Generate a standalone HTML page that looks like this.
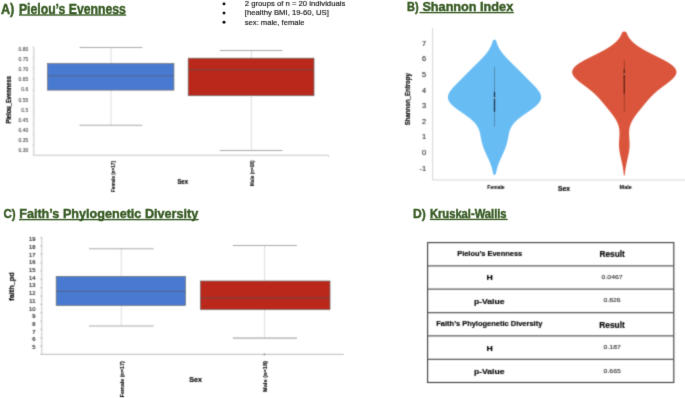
<!DOCTYPE html>
<html><head><meta charset="utf-8"><style>
html,body{margin:0;padding:0;background:#fff;}
body{width:685px;height:398px;overflow:hidden;}
svg{display:block;font-family:"Liberation Sans", sans-serif;}
</style></head><body>
<svg width="685" height="398" viewBox="0 0 685 398">
<defs>
<filter id="bl" x="0" y="0" width="685" height="398" filterUnits="userSpaceOnUse" color-interpolation-filters="sRGB"><feConvolveMatrix order="3" kernelMatrix="1 4 1 4 16 4 1 4 1" divisor="36" edgeMode="duplicate"/></filter>
<filter id="bl2" x="0" y="0" width="685" height="398" filterUnits="userSpaceOnUse" color-interpolation-filters="sRGB"><feConvolveMatrix order="3" kernelMatrix="1 10 1 10 100 10 1 10 1" divisor="144" edgeMode="duplicate"/></filter>
</defs>
<rect width="685" height="398" fill="#fff"/>
<g filter="url(#bl)"><rect width="685" height="398" fill="#fff"/>
<line x1="33.8" y1="47" x2="33.8" y2="155.3" stroke="#c8c8c8" stroke-width="1.1"/>
<line x1="33.8" y1="155.3" x2="328.5" y2="155.3" stroke="#c8c8c8" stroke-width="1.1"/>
<line x1="328.5" y1="155.3" x2="328.5" y2="157" stroke="#c8c8c8" stroke-width="0.9"/>
<text x="0" y="0" transform="translate(28.2 50.800000000000004) scale(1 0.9)" font-size="5.0" text-anchor="end" font-weight="normal" fill="#4a4a4a" stroke="#4a4a4a" stroke-width="0.1">0.80</text>
<text x="0" y="0" transform="translate(28.2 60.96) scale(1 0.9)" font-size="5.0" text-anchor="end" font-weight="normal" fill="#4a4a4a" stroke="#4a4a4a" stroke-width="0.1">0.75</text>
<text x="0" y="0" transform="translate(28.2 71.12) scale(1 0.9)" font-size="5.0" text-anchor="end" font-weight="normal" fill="#4a4a4a" stroke="#4a4a4a" stroke-width="0.1">0.70</text>
<text x="0" y="0" transform="translate(28.2 81.28) scale(1 0.9)" font-size="5.0" text-anchor="end" font-weight="normal" fill="#4a4a4a" stroke="#4a4a4a" stroke-width="0.1">0.65</text>
<text x="0" y="0" transform="translate(28.2 91.44) scale(1 0.9)" font-size="5.0" text-anchor="end" font-weight="normal" fill="#4a4a4a" stroke="#4a4a4a" stroke-width="0.1">0.6</text>
<text x="0" y="0" transform="translate(28.2 101.6) scale(1 0.9)" font-size="5.0" text-anchor="end" font-weight="normal" fill="#4a4a4a" stroke="#4a4a4a" stroke-width="0.1">0.55</text>
<text x="0" y="0" transform="translate(28.2 111.75999999999999) scale(1 0.9)" font-size="5.0" text-anchor="end" font-weight="normal" fill="#4a4a4a" stroke="#4a4a4a" stroke-width="0.1">0.5</text>
<text x="0" y="0" transform="translate(28.2 121.92) scale(1 0.9)" font-size="5.0" text-anchor="end" font-weight="normal" fill="#4a4a4a" stroke="#4a4a4a" stroke-width="0.1">0.45</text>
<text x="0" y="0" transform="translate(28.2 132.08) scale(1 0.9)" font-size="5.0" text-anchor="end" font-weight="normal" fill="#4a4a4a" stroke="#4a4a4a" stroke-width="0.1">0.40</text>
<text x="0" y="0" transform="translate(28.2 142.23999999999998) scale(1 0.9)" font-size="5.0" text-anchor="end" font-weight="normal" fill="#4a4a4a" stroke="#4a4a4a" stroke-width="0.1">0.35</text>
<text x="0" y="0" transform="translate(28.2 152.4) scale(1 0.9)" font-size="5.0" text-anchor="end" font-weight="normal" fill="#4a4a4a" stroke="#4a4a4a" stroke-width="0.1">0.30</text>
<line x1="32.3" y1="155.3" x2="33.8" y2="155.3" stroke="#c8c8c8" stroke-width="0.6"/>
<line x1="32.3" y1="144.5" x2="33.8" y2="144.5" stroke="#c8c8c8" stroke-width="0.6"/>
<line x1="32.3" y1="133.6" x2="33.8" y2="133.6" stroke="#c8c8c8" stroke-width="0.6"/>
<line x1="32.3" y1="122.8" x2="33.8" y2="122.8" stroke="#c8c8c8" stroke-width="0.6"/>
<line x1="32.3" y1="112.0" x2="33.8" y2="112.0" stroke="#c8c8c8" stroke-width="0.6"/>
<line x1="32.3" y1="101.2" x2="33.8" y2="101.2" stroke="#c8c8c8" stroke-width="0.6"/>
<line x1="32.3" y1="90.3" x2="33.8" y2="90.3" stroke="#c8c8c8" stroke-width="0.6"/>
<line x1="32.3" y1="79.5" x2="33.8" y2="79.5" stroke="#c8c8c8" stroke-width="0.6"/>
<line x1="32.3" y1="68.7" x2="33.8" y2="68.7" stroke="#c8c8c8" stroke-width="0.6"/>
<line x1="32.3" y1="57.8" x2="33.8" y2="57.8" stroke="#c8c8c8" stroke-width="0.6"/>
<line x1="32.3" y1="47.0" x2="33.8" y2="47.0" stroke="#c8c8c8" stroke-width="0.6"/>
<line x1="111" y1="47.5" x2="111" y2="125.2" stroke="#b3b3b3" stroke-width="0.7" stroke-dasharray="1 0.6"/>
<line x1="79.6" y1="47.5" x2="142.3" y2="47.5" stroke="#a9a9a9" stroke-width="1.1"/>
<line x1="79.6" y1="125.2" x2="142.3" y2="125.2" stroke="#a9a9a9" stroke-width="1.1"/>
<rect x="47.6" y="63.6" width="126.30" height="26.50" fill="#497AD2" stroke="#6b6b6b" stroke-width="0.7"/>
<line x1="47.6" y1="75.75" x2="173.9" y2="75.75" stroke="#555" stroke-opacity="0.55" stroke-width="1.1"/>
<line x1="251.4" y1="50.5" x2="251.4" y2="150.5" stroke="#b3b3b3" stroke-width="0.7" stroke-dasharray="1 0.6"/>
<line x1="219.8" y1="50.5" x2="282.4" y2="50.5" stroke="#a9a9a9" stroke-width="1.1"/>
<line x1="219.8" y1="150.5" x2="282.4" y2="150.5" stroke="#a9a9a9" stroke-width="1.1"/>
<rect x="188.2" y="58.2" width="125.80" height="37.50" fill="#BA281C" stroke="#6b6b6b" stroke-width="0.7"/>
<line x1="188.2" y1="69.65" x2="314" y2="69.65" stroke="#555" stroke-opacity="0.55" stroke-width="1.1"/>
<text x="10.6" y="123.6" font-size="6.4" text-anchor="start" font-weight="bold" fill="#000" textLength="47.5" lengthAdjust="spacingAndGlyphs" transform="rotate(-90 10.6 123.6)" stroke="#000" stroke-width="0.18">Pielou_Evenness</text>
<text x="114.6" y="192" font-size="5.0" text-anchor="start" font-weight="bold" fill="#000" textLength="31" lengthAdjust="spacingAndGlyphs" transform="rotate(-90 114.6 192)" stroke="#000" stroke-width="0.08">Female (n=17)</text>
<text x="253.8" y="186" font-size="5.0" text-anchor="start" font-weight="bold" fill="#000" textLength="25.5" lengthAdjust="spacingAndGlyphs" transform="rotate(-90 253.8 186)" stroke="#000" stroke-width="0.08">Male (n=18)</text>
<text x="177.4" y="184.2" font-size="7.2" text-anchor="start" font-weight="bold" fill="#000" textLength="10.6" lengthAdjust="spacingAndGlyphs" stroke="#000" stroke-width="0.18">Sex</text>
<line x1="432.6" y1="27.8" x2="432.6" y2="180" stroke="#d0d0d0" stroke-width="0.9"/>
<line x1="432.6" y1="180" x2="685" y2="180" stroke="#d0d0d0" stroke-width="0.9"/>
<text x="426.0" y="170.6" font-size="7.4" text-anchor="end" font-weight="normal" fill="#222" stroke="#222" stroke-width="0.1">-1</text>
<text x="426.0" y="155.0" font-size="7.4" text-anchor="end" font-weight="normal" fill="#222" stroke="#222" stroke-width="0.1">0</text>
<text x="426.0" y="139.4" font-size="7.4" text-anchor="end" font-weight="normal" fill="#222" stroke="#222" stroke-width="0.1">1</text>
<text x="426.0" y="123.80000000000001" font-size="7.4" text-anchor="end" font-weight="normal" fill="#222" stroke="#222" stroke-width="0.1">2</text>
<text x="426.0" y="108.20000000000002" font-size="7.4" text-anchor="end" font-weight="normal" fill="#222" stroke="#222" stroke-width="0.1">3</text>
<text x="426.0" y="92.60000000000001" font-size="7.4" text-anchor="end" font-weight="normal" fill="#222" stroke="#222" stroke-width="0.1">4</text>
<text x="426.0" y="77.00000000000001" font-size="7.4" text-anchor="end" font-weight="normal" fill="#222" stroke="#222" stroke-width="0.1">5</text>
<text x="426.0" y="61.40000000000002" font-size="7.4" text-anchor="end" font-weight="normal" fill="#222" stroke="#222" stroke-width="0.1">6</text>
<text x="426.0" y="45.80000000000001" font-size="7.4" text-anchor="end" font-weight="normal" fill="#222" stroke="#222" stroke-width="0.1">7</text>
<path d="M492.70,41.20 A1.80,1.44 0 0 1 496.30,41.20 L496.44,41.70 L496.59,42.20 L496.75,42.70 L496.92,43.20 L497.09,43.70 L497.28,44.20 L497.48,44.70 L497.69,45.20 L497.90,45.70 L498.13,46.20 L498.37,46.70 L498.62,47.20 L498.89,47.70 L499.16,48.20 L499.44,48.70 L499.74,49.20 L500.05,49.70 L500.37,50.20 L500.70,50.70 L501.04,51.20 L501.39,51.70 L501.75,52.20 L502.13,52.70 L502.51,53.20 L502.91,53.70 L503.31,54.20 L503.73,54.70 L504.15,55.20 L504.58,55.70 L505.02,56.20 L505.47,56.70 L505.93,57.20 L506.40,57.70 L506.87,58.20 L507.34,58.70 L507.83,59.20 L508.31,59.70 L508.81,60.20 L509.30,60.70 L509.80,61.20 L510.31,61.70 L510.81,62.20 L511.32,62.70 L511.83,63.20 L512.34,63.70 L512.85,64.20 L513.36,64.70 L513.88,65.20 L514.39,65.70 L514.90,66.20 L515.41,66.70 L515.91,67.20 L516.42,67.70 L516.93,68.20 L517.43,68.70 L517.93,69.20 L518.43,69.70 L518.93,70.20 L519.43,70.70 L519.92,71.20 L520.42,71.70 L520.91,72.20 L521.40,72.70 L521.89,73.20 L522.38,73.70 L522.87,74.20 L523.37,74.70 L523.86,75.20 L524.35,75.70 L524.84,76.20 L525.33,76.70 L525.82,77.20 L526.32,77.70 L526.81,78.20 L527.31,78.70 L527.80,79.20 L528.30,79.70 L528.80,80.20 L529.30,80.70 L529.80,81.20 L530.30,81.70 L530.81,82.20 L531.31,82.70 L531.80,83.20 L532.30,83.70 L532.80,84.20 L533.29,84.70 L533.77,85.20 L534.26,85.70 L534.73,86.20 L535.20,86.70 L535.66,87.20 L536.11,87.70 L536.55,88.20 L536.98,88.70 L537.39,89.20 L537.79,89.70 L538.18,90.20 L538.54,90.70 L538.89,91.20 L539.21,91.70 L539.52,92.20 L539.80,92.70 L540.05,93.20 L540.28,93.70 L540.49,94.20 L540.66,94.70 L540.81,95.20 L540.92,95.70 L541.00,96.20 L541.05,96.70 L541.07,97.20 L541.06,97.70 L541.01,98.20 L540.92,98.70 L540.80,99.20 L540.65,99.70 L540.46,100.20 L540.23,100.70 L539.97,101.20 L539.68,101.70 L539.35,102.20 L538.99,102.70 L538.60,103.20 L538.18,103.70 L537.73,104.20 L537.24,104.70 L536.73,105.20 L536.19,105.70 L535.63,106.20 L535.05,106.70 L534.44,107.20 L533.81,107.70 L533.16,108.20 L532.50,108.70 L531.82,109.20 L531.13,109.70 L530.43,110.20 L529.72,110.70 L529.00,111.20 L528.28,111.70 L527.55,112.20 L526.83,112.70 L526.10,113.20 L525.37,113.70 L524.65,114.20 L523.94,114.70 L523.23,115.20 L522.54,115.70 L521.85,116.20 L521.17,116.70 L520.51,117.20 L519.86,117.70 L519.23,118.20 L518.62,118.70 L518.02,119.20 L517.44,119.70 L516.88,120.20 L516.34,120.70 L515.82,121.20 L515.32,121.70 L514.84,122.20 L514.38,122.70 L513.95,123.20 L513.53,123.70 L513.13,124.20 L512.76,124.70 L512.41,125.20 L512.07,125.70 L511.76,126.20 L511.46,126.70 L511.19,127.20 L510.93,127.70 L510.68,128.20 L510.46,128.70 L510.25,129.20 L510.05,129.70 L509.87,130.20 L509.70,130.70 L509.54,131.20 L509.39,131.70 L509.25,132.20 L509.12,132.70 L509.00,133.20 L508.89,133.70 L508.78,134.20 L508.67,134.70 L508.57,135.20 L508.48,135.70 L508.38,136.20 L508.29,136.70 L508.20,137.20 L508.11,137.70 L508.01,138.20 L507.92,138.70 L507.82,139.20 L507.73,139.70 L507.62,140.20 L507.52,140.70 L507.41,141.20 L507.29,141.70 L507.17,142.20 L507.05,142.70 L506.92,143.20 L506.78,143.70 L506.64,144.20 L506.49,144.70 L506.34,145.20 L506.18,145.70 L506.01,146.20 L505.84,146.70 L505.67,147.20 L505.48,147.70 L505.30,148.20 L505.10,148.70 L504.90,149.20 L504.70,149.70 L504.50,150.20 L504.28,150.70 L504.07,151.20 L503.85,151.70 L503.63,152.20 L503.41,152.70 L503.18,153.20 L502.96,153.70 L502.73,154.20 L502.50,154.70 L502.27,155.20 L502.04,155.70 L501.81,156.20 L501.58,156.70 L501.35,157.20 L501.12,157.70 L500.89,158.20 L500.67,158.70 L500.45,159.20 L500.23,159.70 L500.01,160.20 L499.80,160.70 L499.59,161.20 L499.38,161.70 L499.18,162.20 L498.98,162.70 L498.79,163.20 L498.60,163.70 L498.42,164.20 L498.24,164.70 L498.06,165.20 L497.89,165.70 L497.72,166.20 L497.57,166.70 L497.41,167.20 L497.26,167.70 L497.12,168.20 L496.98,168.70 L496.84,169.20 L496.71,169.70 L496.59,170.20 L496.47,170.70 L496.36,171.20 L496.25,171.70 L496.14,172.20 L496.04,172.70 L495.95,173.20 L495.86,173.70 L495.77,174.20 L494.70,174.70 L494.30,174.70 L493.23,174.20 L493.14,173.70 L493.05,173.20 L492.96,172.70 L492.86,172.20 L492.75,171.70 L492.64,171.20 L492.53,170.70 L492.41,170.20 L492.29,169.70 L492.16,169.20 L492.02,168.70 L491.88,168.20 L491.74,167.70 L491.59,167.20 L491.43,166.70 L491.28,166.20 L491.11,165.70 L490.94,165.20 L490.76,164.70 L490.58,164.20 L490.40,163.70 L490.21,163.20 L490.02,162.70 L489.82,162.20 L489.62,161.70 L489.41,161.20 L489.20,160.70 L488.99,160.20 L488.77,159.70 L488.55,159.20 L488.33,158.70 L488.11,158.20 L487.88,157.70 L487.65,157.20 L487.42,156.70 L487.19,156.20 L486.96,155.70 L486.73,155.20 L486.50,154.70 L486.27,154.20 L486.04,153.70 L485.82,153.20 L485.59,152.70 L485.37,152.20 L485.15,151.70 L484.93,151.20 L484.72,150.70 L484.50,150.20 L484.30,149.70 L484.10,149.20 L483.90,148.70 L483.70,148.20 L483.52,147.70 L483.33,147.20 L483.16,146.70 L482.99,146.20 L482.82,145.70 L482.66,145.20 L482.51,144.70 L482.36,144.20 L482.22,143.70 L482.08,143.20 L481.95,142.70 L481.83,142.20 L481.71,141.70 L481.59,141.20 L481.48,140.70 L481.38,140.20 L481.27,139.70 L481.18,139.20 L481.08,138.70 L480.99,138.20 L480.89,137.70 L480.80,137.20 L480.71,136.70 L480.62,136.20 L480.52,135.70 L480.43,135.20 L480.33,134.70 L480.22,134.20 L480.11,133.70 L480.00,133.20 L479.88,132.70 L479.75,132.20 L479.61,131.70 L479.46,131.20 L479.30,130.70 L479.13,130.20 L478.95,129.70 L478.75,129.20 L478.54,128.70 L478.32,128.20 L478.07,127.70 L477.81,127.20 L477.54,126.70 L477.24,126.20 L476.93,125.70 L476.59,125.20 L476.24,124.70 L475.87,124.20 L475.47,123.70 L475.05,123.20 L474.62,122.70 L474.16,122.20 L473.68,121.70 L473.18,121.20 L472.66,120.70 L472.12,120.20 L471.56,119.70 L470.98,119.20 L470.38,118.70 L469.77,118.20 L469.14,117.70 L468.49,117.20 L467.83,116.70 L467.15,116.20 L466.46,115.70 L465.77,115.20 L465.06,114.70 L464.35,114.20 L463.63,113.70 L462.90,113.20 L462.17,112.70 L461.45,112.20 L460.72,111.70 L460.00,111.20 L459.28,110.70 L458.57,110.20 L457.87,109.70 L457.18,109.20 L456.50,108.70 L455.84,108.20 L455.19,107.70 L454.56,107.20 L453.95,106.70 L453.37,106.20 L452.81,105.70 L452.27,105.20 L451.76,104.70 L451.27,104.20 L450.82,103.70 L450.40,103.20 L450.01,102.70 L449.65,102.20 L449.32,101.70 L449.03,101.20 L448.77,100.70 L448.54,100.20 L448.35,99.70 L448.20,99.20 L448.08,98.70 L447.99,98.20 L447.94,97.70 L447.93,97.20 L447.95,96.70 L448.00,96.20 L448.08,95.70 L448.19,95.20 L448.34,94.70 L448.51,94.20 L448.72,93.70 L448.95,93.20 L449.20,92.70 L449.48,92.20 L449.79,91.70 L450.11,91.20 L450.46,90.70 L450.82,90.20 L451.21,89.70 L451.61,89.20 L452.02,88.70 L452.45,88.20 L452.89,87.70 L453.34,87.20 L453.80,86.70 L454.27,86.20 L454.74,85.70 L455.23,85.20 L455.71,84.70 L456.20,84.20 L456.70,83.70 L457.20,83.20 L457.69,82.70 L458.19,82.20 L458.70,81.70 L459.20,81.20 L459.70,80.70 L460.20,80.20 L460.70,79.70 L461.20,79.20 L461.69,78.70 L462.19,78.20 L462.68,77.70 L463.18,77.20 L463.67,76.70 L464.16,76.20 L464.65,75.70 L465.14,75.20 L465.63,74.70 L466.13,74.20 L466.62,73.70 L467.11,73.20 L467.60,72.70 L468.09,72.20 L468.58,71.70 L469.08,71.20 L469.57,70.70 L470.07,70.20 L470.57,69.70 L471.07,69.20 L471.57,68.70 L472.07,68.20 L472.58,67.70 L473.09,67.20 L473.59,66.70 L474.10,66.20 L474.61,65.70 L475.12,65.20 L475.64,64.70 L476.15,64.20 L476.66,63.70 L477.17,63.20 L477.68,62.70 L478.19,62.20 L478.69,61.70 L479.20,61.20 L479.70,60.70 L480.19,60.20 L480.69,59.70 L481.17,59.20 L481.66,58.70 L482.13,58.20 L482.60,57.70 L483.07,57.20 L483.53,56.70 L483.98,56.20 L484.42,55.70 L484.85,55.20 L485.27,54.70 L485.69,54.20 L486.09,53.70 L486.49,53.20 L486.87,52.70 L487.25,52.20 L487.61,51.70 L487.96,51.20 L488.30,50.70 L488.63,50.20 L488.95,49.70 L489.26,49.20 L489.56,48.70 L489.84,48.20 L490.11,47.70 L490.38,47.20 L490.63,46.70 L490.87,46.20 L491.10,45.70 L491.31,45.20 L491.52,44.70 L491.72,44.20 L491.91,43.70 L492.08,43.20 L492.25,42.70 L492.41,42.20 L492.56,41.70 L492.70,41.20 Z" fill="#68BCF4"/>
<path d="M621.77,33.60 A2.53,2.02 0 0 1 626.83,33.60 L627.04,34.10 L627.26,34.60 L627.50,35.10 L627.76,35.60 L628.03,36.10 L628.32,36.60 L628.62,37.10 L628.94,37.60 L629.29,38.10 L629.65,38.60 L630.03,39.10 L630.43,39.60 L630.86,40.10 L631.30,40.60 L631.77,41.10 L632.26,41.60 L632.78,42.10 L633.31,42.60 L633.87,43.10 L634.46,43.60 L635.07,44.10 L635.70,44.60 L636.36,45.10 L637.04,45.60 L637.75,46.10 L638.48,46.60 L639.23,47.10 L640.01,47.60 L640.81,48.10 L641.63,48.60 L642.47,49.10 L643.34,49.60 L644.22,50.10 L645.12,50.60 L646.04,51.10 L646.98,51.60 L647.93,52.10 L648.89,52.60 L649.87,53.10 L650.86,53.60 L651.85,54.10 L652.86,54.60 L653.87,55.10 L654.88,55.60 L655.89,56.10 L656.90,56.60 L657.91,57.10 L658.92,57.60 L659.91,58.10 L660.90,58.60 L661.87,59.10 L662.83,59.60 L663.78,60.10 L664.70,60.60 L665.60,61.10 L666.48,61.60 L667.34,62.10 L668.16,62.60 L668.96,63.10 L669.72,63.60 L670.45,64.10 L671.15,64.60 L671.80,65.10 L672.42,65.60 L673.00,66.10 L673.53,66.60 L674.03,67.10 L674.47,67.60 L674.88,68.10 L675.23,68.60 L675.54,69.10 L675.81,69.60 L676.02,70.10 L676.19,70.60 L676.31,71.10 L676.39,71.60 L676.41,72.10 L676.39,72.60 L676.33,73.10 L676.22,73.60 L676.07,74.10 L675.87,74.60 L675.63,75.10 L675.36,75.60 L675.04,76.10 L674.69,76.60 L674.30,77.10 L673.88,77.60 L673.43,78.10 L672.95,78.60 L672.45,79.10 L671.91,79.60 L671.36,80.10 L670.78,80.60 L670.19,81.10 L669.58,81.60 L668.95,82.10 L668.31,82.60 L667.66,83.10 L667.00,83.60 L666.34,84.10 L665.67,84.60 L665.00,85.10 L664.33,85.60 L663.65,86.10 L662.98,86.60 L662.31,87.10 L661.65,87.60 L660.99,88.10 L660.34,88.60 L659.70,89.10 L659.06,89.60 L658.44,90.10 L657.82,90.60 L657.22,91.10 L656.62,91.60 L656.04,92.10 L655.47,92.60 L654.90,93.10 L654.35,93.60 L653.81,94.10 L653.29,94.60 L652.77,95.10 L652.26,95.60 L651.76,96.10 L651.27,96.60 L650.79,97.10 L650.32,97.60 L649.86,98.10 L649.40,98.60 L648.95,99.10 L648.51,99.60 L648.07,100.10 L647.64,100.60 L647.21,101.10 L646.79,101.60 L646.37,102.10 L645.95,102.60 L645.53,103.10 L645.12,103.60 L644.70,104.10 L644.29,104.60 L643.88,105.10 L643.47,105.60 L643.06,106.10 L642.66,106.60 L642.25,107.10 L641.84,107.60 L641.43,108.10 L641.03,108.60 L640.62,109.10 L640.21,109.60 L639.81,110.10 L639.41,110.60 L639.01,111.10 L638.61,111.60 L638.21,112.10 L637.82,112.60 L637.43,113.10 L637.04,113.60 L636.66,114.10 L636.29,114.60 L635.92,115.10 L635.55,115.60 L635.19,116.10 L634.84,116.60 L634.50,117.10 L634.16,117.60 L633.83,118.10 L633.51,118.60 L633.20,119.10 L632.90,119.60 L632.61,120.10 L632.33,120.60 L632.07,121.10 L631.81,121.60 L631.56,122.10 L631.33,122.60 L631.11,123.10 L630.90,123.60 L630.70,124.10 L630.52,124.60 L630.34,125.10 L630.18,125.60 L630.04,126.10 L629.90,126.60 L629.77,127.10 L629.66,127.60 L629.56,128.10 L629.47,128.60 L629.39,129.10 L629.32,129.60 L629.26,130.10 L629.21,130.60 L629.18,131.10 L629.15,131.60 L629.12,132.10 L629.11,132.60 L629.10,133.10 L629.10,133.60 L629.11,134.10 L629.12,134.60 L629.13,135.10 L629.15,135.60 L629.18,136.10 L629.21,136.60 L629.24,137.10 L629.27,137.60 L629.30,138.10 L629.33,138.60 L629.37,139.10 L629.40,139.60 L629.43,140.10 L629.46,140.60 L629.49,141.10 L629.52,141.60 L629.54,142.10 L629.56,142.60 L629.58,143.10 L629.59,143.60 L629.59,144.10 L629.60,144.60 L629.59,145.10 L629.59,145.60 L629.57,146.10 L629.55,146.60 L629.53,147.10 L629.50,147.60 L629.46,148.10 L629.42,148.60 L629.37,149.10 L629.32,149.60 L629.26,150.10 L629.20,150.60 L629.13,151.10 L629.05,151.60 L628.97,152.10 L628.89,152.60 L628.80,153.10 L628.71,153.60 L628.61,154.10 L628.51,154.60 L628.41,155.10 L628.30,155.60 L628.20,156.10 L628.09,156.60 L627.97,157.10 L627.86,157.60 L627.75,158.10 L627.63,158.60 L627.51,159.10 L627.40,159.60 L627.28,160.10 L627.16,160.60 L627.05,161.10 L626.94,161.60 L626.82,162.10 L626.71,162.60 L626.60,163.10 L626.49,163.60 L626.39,164.10 L626.29,164.60 L626.18,165.10 L626.09,165.60 L625.99,166.10 L625.90,166.60 L625.81,167.10 L625.72,167.60 L625.64,168.10 L625.56,168.60 L625.48,169.10 L625.41,169.60 L625.34,170.10 L625.27,170.60 L625.21,171.10 L625.14,171.60 L625.09,172.10 L625.03,172.60 L624.98,173.10 L624.93,173.60 L624.88,174.10 L624.84,174.60 L624.80,175.10 L624.50,175.60 L624.10,175.60 L623.80,175.10 L623.76,174.60 L623.72,174.10 L623.67,173.60 L623.62,173.10 L623.57,172.60 L623.51,172.10 L623.46,171.60 L623.39,171.10 L623.33,170.60 L623.26,170.10 L623.19,169.60 L623.12,169.10 L623.04,168.60 L622.96,168.10 L622.88,167.60 L622.79,167.10 L622.70,166.60 L622.61,166.10 L622.51,165.60 L622.42,165.10 L622.31,164.60 L622.21,164.10 L622.11,163.60 L622.00,163.10 L621.89,162.60 L621.78,162.10 L621.66,161.60 L621.55,161.10 L621.44,160.60 L621.32,160.10 L621.20,159.60 L621.09,159.10 L620.97,158.60 L620.85,158.10 L620.74,157.60 L620.63,157.10 L620.51,156.60 L620.40,156.10 L620.30,155.60 L620.19,155.10 L620.09,154.60 L619.99,154.10 L619.89,153.60 L619.80,153.10 L619.71,152.60 L619.63,152.10 L619.55,151.60 L619.47,151.10 L619.40,150.60 L619.34,150.10 L619.28,149.60 L619.23,149.10 L619.18,148.60 L619.14,148.10 L619.10,147.60 L619.07,147.10 L619.05,146.60 L619.03,146.10 L619.01,145.60 L619.01,145.10 L619.00,144.60 L619.01,144.10 L619.01,143.60 L619.02,143.10 L619.04,142.60 L619.06,142.10 L619.08,141.60 L619.11,141.10 L619.14,140.60 L619.17,140.10 L619.20,139.60 L619.23,139.10 L619.27,138.60 L619.30,138.10 L619.33,137.60 L619.36,137.10 L619.39,136.60 L619.42,136.10 L619.45,135.60 L619.47,135.10 L619.48,134.60 L619.49,134.10 L619.50,133.60 L619.50,133.10 L619.49,132.60 L619.48,132.10 L619.45,131.60 L619.42,131.10 L619.39,130.60 L619.34,130.10 L619.28,129.60 L619.21,129.10 L619.13,128.60 L619.04,128.10 L618.94,127.60 L618.83,127.10 L618.70,126.60 L618.56,126.10 L618.42,125.60 L618.26,125.10 L618.08,124.60 L617.90,124.10 L617.70,123.60 L617.49,123.10 L617.27,122.60 L617.04,122.10 L616.79,121.60 L616.53,121.10 L616.27,120.60 L615.99,120.10 L615.70,119.60 L615.40,119.10 L615.09,118.60 L614.77,118.10 L614.44,117.60 L614.10,117.10 L613.76,116.60 L613.41,116.10 L613.05,115.60 L612.68,115.10 L612.31,114.60 L611.94,114.10 L611.56,113.60 L611.17,113.10 L610.78,112.60 L610.39,112.10 L609.99,111.60 L609.59,111.10 L609.19,110.60 L608.79,110.10 L608.39,109.60 L607.98,109.10 L607.57,108.60 L607.17,108.10 L606.76,107.60 L606.35,107.10 L605.94,106.60 L605.54,106.10 L605.13,105.60 L604.72,105.10 L604.31,104.60 L603.90,104.10 L603.48,103.60 L603.07,103.10 L602.65,102.60 L602.23,102.10 L601.81,101.60 L601.39,101.10 L600.96,100.60 L600.53,100.10 L600.09,99.60 L599.65,99.10 L599.20,98.60 L598.74,98.10 L598.28,97.60 L597.81,97.10 L597.33,96.60 L596.84,96.10 L596.34,95.60 L595.83,95.10 L595.31,94.60 L594.79,94.10 L594.25,93.60 L593.70,93.10 L593.13,92.60 L592.56,92.10 L591.98,91.60 L591.38,91.10 L590.78,90.60 L590.16,90.10 L589.54,89.60 L588.90,89.10 L588.26,88.60 L587.61,88.10 L586.95,87.60 L586.29,87.10 L585.62,86.60 L584.95,86.10 L584.27,85.60 L583.60,85.10 L582.93,84.60 L582.26,84.10 L581.60,83.60 L580.94,83.10 L580.29,82.60 L579.65,82.10 L579.02,81.60 L578.41,81.10 L577.82,80.60 L577.24,80.10 L576.69,79.60 L576.15,79.10 L575.65,78.60 L575.17,78.10 L574.72,77.60 L574.30,77.10 L573.91,76.60 L573.56,76.10 L573.24,75.60 L572.97,75.10 L572.73,74.60 L572.53,74.10 L572.38,73.60 L572.27,73.10 L572.21,72.60 L572.19,72.10 L572.21,71.60 L572.29,71.10 L572.41,70.60 L572.58,70.10 L572.79,69.60 L573.06,69.10 L573.37,68.60 L573.72,68.10 L574.13,67.60 L574.57,67.10 L575.07,66.60 L575.60,66.10 L576.18,65.60 L576.80,65.10 L577.45,64.60 L578.15,64.10 L578.88,63.60 L579.64,63.10 L580.44,62.60 L581.26,62.10 L582.12,61.60 L583.00,61.10 L583.90,60.60 L584.82,60.10 L585.77,59.60 L586.73,59.10 L587.70,58.60 L588.69,58.10 L589.68,57.60 L590.69,57.10 L591.70,56.60 L592.71,56.10 L593.72,55.60 L594.73,55.10 L595.74,54.60 L596.75,54.10 L597.74,53.60 L598.73,53.10 L599.71,52.60 L600.67,52.10 L601.62,51.60 L602.56,51.10 L603.48,50.60 L604.38,50.10 L605.26,49.60 L606.13,49.10 L606.97,48.60 L607.79,48.10 L608.59,47.60 L609.37,47.10 L610.12,46.60 L610.85,46.10 L611.56,45.60 L612.24,45.10 L612.90,44.60 L613.53,44.10 L614.14,43.60 L614.73,43.10 L615.29,42.60 L615.82,42.10 L616.34,41.60 L616.83,41.10 L617.30,40.60 L617.74,40.10 L618.17,39.60 L618.57,39.10 L618.95,38.60 L619.31,38.10 L619.66,37.60 L619.98,37.10 L620.28,36.60 L620.57,36.10 L620.84,35.60 L621.10,35.10 L621.34,34.60 L621.56,34.10 L621.77,33.60 Z" fill="#DA553C"/>
<line x1="494.5" y1="66.9" x2="494.5" y2="126.7" stroke="#3f5a70" stroke-width="0.5"/>
<rect x="493.85" y="91.9" width="1.3" height="19.9" fill="#1f3447"/>
<rect x="493.85" y="97.5" width="1.3" height="1.0" fill="#e8f4ff"/>
<line x1="624.3" y1="60.2" x2="624.3" y2="111.6" stroke="#7a2a1c" stroke-width="0.55"/>
<rect x="623.65" y="68.9" width="1.3" height="25" fill="#6a2418"/>
<rect x="623.65" y="73.7" width="1.3" height="1.0" fill="#f0a090"/>
<text x="409.9" y="125.2" font-size="6.5" text-anchor="start" font-weight="bold" fill="#000" textLength="52" lengthAdjust="spacingAndGlyphs" transform="rotate(-90 409.9 125.2)" stroke="#000" stroke-width="0.18">Shannon_Entropy</text>
<text x="496" y="189" font-size="5.4" text-anchor="middle" font-weight="bold" fill="#000" textLength="17.3" lengthAdjust="spacingAndGlyphs" stroke="#000" stroke-width="0.08">Female</text>
<text x="625.7" y="189" font-size="5.4" text-anchor="middle" font-weight="bold" fill="#000" textLength="12.2" lengthAdjust="spacingAndGlyphs" stroke="#000" stroke-width="0.08">Male</text>
<text x="558" y="191.3" font-size="7.6" text-anchor="start" font-weight="bold" fill="#000" textLength="12" lengthAdjust="spacingAndGlyphs" stroke="#000" stroke-width="0.18">Sex</text>
<line x1="41.8" y1="237.2" x2="41.8" y2="354.4" stroke="#c8c8c8" stroke-width="1.1"/>
<line x1="41.8" y1="354.4" x2="343.8" y2="354.4" stroke="#c8c8c8" stroke-width="1.1"/>
<text x="35.4" y="349.0" font-size="5.8" text-anchor="end" font-weight="normal" fill="#333" stroke="#333" stroke-width="0.2">5</text>
<text x="35.4" y="341.3" font-size="5.8" text-anchor="end" font-weight="normal" fill="#333" stroke="#333" stroke-width="0.2">6</text>
<text x="35.4" y="333.6" font-size="5.8" text-anchor="end" font-weight="normal" fill="#333" stroke="#333" stroke-width="0.2">7</text>
<text x="35.4" y="325.9" font-size="5.8" text-anchor="end" font-weight="normal" fill="#333" stroke="#333" stroke-width="0.2">8</text>
<text x="35.4" y="318.2" font-size="5.8" text-anchor="end" font-weight="normal" fill="#333" stroke="#333" stroke-width="0.2">9</text>
<text x="35.4" y="310.5" font-size="5.8" text-anchor="end" font-weight="normal" fill="#333" stroke="#333" stroke-width="0.2">10</text>
<text x="35.4" y="302.8" font-size="5.8" text-anchor="end" font-weight="normal" fill="#333" stroke="#333" stroke-width="0.2">11</text>
<text x="35.4" y="295.1" font-size="5.8" text-anchor="end" font-weight="normal" fill="#333" stroke="#333" stroke-width="0.2">12</text>
<text x="35.4" y="287.4" font-size="5.8" text-anchor="end" font-weight="normal" fill="#333" stroke="#333" stroke-width="0.2">13</text>
<text x="35.4" y="279.7" font-size="5.8" text-anchor="end" font-weight="normal" fill="#333" stroke="#333" stroke-width="0.2">14</text>
<text x="35.4" y="272.0" font-size="5.8" text-anchor="end" font-weight="normal" fill="#333" stroke="#333" stroke-width="0.2">15</text>
<text x="35.4" y="264.3" font-size="5.8" text-anchor="end" font-weight="normal" fill="#333" stroke="#333" stroke-width="0.2">16</text>
<text x="35.4" y="256.6" font-size="5.8" text-anchor="end" font-weight="normal" fill="#333" stroke="#333" stroke-width="0.2">17</text>
<text x="35.4" y="248.89999999999998" font-size="5.8" text-anchor="end" font-weight="normal" fill="#333" stroke="#333" stroke-width="0.2">18</text>
<text x="35.4" y="241.2" font-size="5.8" text-anchor="end" font-weight="normal" fill="#333" stroke="#333" stroke-width="0.2">19</text>
<line x1="40.0" y1="354.4" x2="41.8" y2="354.4" stroke="#a0a0a0" stroke-width="0.6"/>
<line x1="40.0" y1="346.1" x2="41.8" y2="346.1" stroke="#a0a0a0" stroke-width="0.6"/>
<line x1="40.0" y1="337.7" x2="41.8" y2="337.7" stroke="#a0a0a0" stroke-width="0.6"/>
<line x1="40.0" y1="329.4" x2="41.8" y2="329.4" stroke="#a0a0a0" stroke-width="0.6"/>
<line x1="40.0" y1="321.0" x2="41.8" y2="321.0" stroke="#a0a0a0" stroke-width="0.6"/>
<line x1="40.0" y1="312.7" x2="41.8" y2="312.7" stroke="#a0a0a0" stroke-width="0.6"/>
<line x1="40.0" y1="304.4" x2="41.8" y2="304.4" stroke="#a0a0a0" stroke-width="0.6"/>
<line x1="40.0" y1="296.0" x2="41.8" y2="296.0" stroke="#a0a0a0" stroke-width="0.6"/>
<line x1="40.0" y1="287.7" x2="41.8" y2="287.7" stroke="#a0a0a0" stroke-width="0.6"/>
<line x1="40.0" y1="279.3" x2="41.8" y2="279.3" stroke="#a0a0a0" stroke-width="0.6"/>
<line x1="40.0" y1="271.0" x2="41.8" y2="271.0" stroke="#a0a0a0" stroke-width="0.6"/>
<line x1="40.0" y1="262.7" x2="41.8" y2="262.7" stroke="#a0a0a0" stroke-width="0.6"/>
<line x1="40.0" y1="254.3" x2="41.8" y2="254.3" stroke="#a0a0a0" stroke-width="0.6"/>
<line x1="40.0" y1="246.0" x2="41.8" y2="246.0" stroke="#a0a0a0" stroke-width="0.6"/>
<line x1="40.0" y1="237.6" x2="41.8" y2="237.6" stroke="#a0a0a0" stroke-width="0.6"/>
<line x1="121.2" y1="248.8" x2="121.2" y2="326" stroke="#b3b3b3" stroke-width="0.7" stroke-dasharray="1 0.6"/>
<line x1="89" y1="248.8" x2="153.6" y2="248.8" stroke="#a9a9a9" stroke-width="1.1"/>
<line x1="89" y1="326" x2="153.6" y2="326" stroke="#a9a9a9" stroke-width="1.1"/>
<rect x="56.2" y="276.4" width="129.30" height="29.00" fill="#497AD2" stroke="#6b6b6b" stroke-width="0.7"/>
<line x1="56.2" y1="291.25" x2="185.5" y2="291.25" stroke="#555" stroke-opacity="0.55" stroke-width="1.1"/>
<line x1="264.5" y1="245.5" x2="264.5" y2="338.1" stroke="#b3b3b3" stroke-width="0.7" stroke-dasharray="1 0.6"/>
<line x1="232.8" y1="245.5" x2="296.9" y2="245.5" stroke="#a9a9a9" stroke-width="1.1"/>
<line x1="232.8" y1="338.1" x2="296.9" y2="338.1" stroke="#a9a9a9" stroke-width="1.1"/>
<rect x="200.4" y="281" width="129.60" height="28.60" fill="#BA281C" stroke="#6b6b6b" stroke-width="0.7"/>
<line x1="200.4" y1="297.85" x2="330" y2="297.85" stroke="#555" stroke-opacity="0.55" stroke-width="1.1"/>
<circle cx="264.5" cy="354.4" r="0.9" fill="#888"/>
<text x="13.6" y="300.8" font-size="7.4" text-anchor="start" font-weight="bold" fill="#000" textLength="28.6" lengthAdjust="spacingAndGlyphs" transform="rotate(-90 13.6 300.8)" stroke="#000" stroke-width="0.18">faith_pd</text>
<text x="123.9" y="397.3" font-size="5.4" text-anchor="start" font-weight="bold" fill="#000" textLength="36" lengthAdjust="spacingAndGlyphs" transform="rotate(-90 123.9 397.3)" stroke="#000" stroke-width="0.08">Female (n=17)</text>
<text x="266.7" y="392" font-size="5.4" text-anchor="start" font-weight="bold" fill="#000" textLength="31" lengthAdjust="spacingAndGlyphs" transform="rotate(-90 266.7 392)" stroke="#000" stroke-width="0.08">Male (n=18)</text>
<text x="189.3" y="382.4" font-size="7.4" text-anchor="start" font-weight="bold" fill="#000" textLength="12.7" lengthAdjust="spacingAndGlyphs" stroke="#000" stroke-width="0.18">Sex</text>
<rect x="427.6" y="242.6" width="246.2" height="139.9" fill="none" stroke="#3a3a3a" stroke-width="1.1"/>
<line x1="427.6" y1="265.9" x2="673.8" y2="265.9" stroke="#5a5a5a" stroke-width="1.3"/>
<line x1="427.6" y1="289.2" x2="673.8" y2="289.2" stroke="#5a5a5a" stroke-width="1.3"/>
<line x1="427.6" y1="312.6" x2="673.8" y2="312.6" stroke="#5a5a5a" stroke-width="1.3"/>
<line x1="427.6" y1="335.9" x2="673.8" y2="335.9" stroke="#5a5a5a" stroke-width="1.3"/>
<line x1="427.6" y1="359.3" x2="673.8" y2="359.3" stroke="#5a5a5a" stroke-width="1.3"/>
<text x="457.2" y="255.7" font-size="7.3" text-anchor="start" font-weight="bold" fill="#000" textLength="65.0" lengthAdjust="spacingAndGlyphs" stroke="#000" stroke-width="0.15">Pielou’s Evenness</text>
<text x="599.4" y="256.6" font-size="8.2" text-anchor="start" font-weight="bold" fill="#000" textLength="25.5" lengthAdjust="spacingAndGlyphs" stroke="#000" stroke-width="0.15">Result</text>
<text x="486.5" y="280.1" font-size="7.7" text-anchor="start" font-weight="bold" fill="#000" textLength="6.3" lengthAdjust="spacingAndGlyphs" stroke="#000" stroke-width="0.15">H</text>
<text x="601.6" y="278.6" font-size="6.2" text-anchor="start" font-weight="normal" fill="#222" textLength="21.0" lengthAdjust="spacingAndGlyphs" stroke="#222" stroke-width="0.08">0.0467</text>
<text x="473.9" y="304.4" font-size="7.8" text-anchor="start" font-weight="bold" fill="#000" textLength="30.6" lengthAdjust="spacingAndGlyphs" stroke="#000" stroke-width="0.15">p-Value</text>
<text x="603.6" y="302.0" font-size="6.2" text-anchor="start" font-weight="normal" fill="#222" textLength="17.0" lengthAdjust="spacingAndGlyphs" stroke="#222" stroke-width="0.08">0.826</text>
<text x="436.3" y="326.2" font-size="7.3" text-anchor="start" font-weight="bold" fill="#000" textLength="106.0" lengthAdjust="spacingAndGlyphs" stroke="#000" stroke-width="0.15">Faith’s Phylogenetic Diversity</text>
<text x="599.2" y="328.0" font-size="8.2" text-anchor="start" font-weight="bold" fill="#000" textLength="25.6" lengthAdjust="spacingAndGlyphs" stroke="#000" stroke-width="0.15">Result</text>
<text x="486.5" y="350.7" font-size="7.7" text-anchor="start" font-weight="bold" fill="#000" textLength="6.3" lengthAdjust="spacingAndGlyphs" stroke="#000" stroke-width="0.15">H</text>
<text x="603.6" y="349.0" font-size="6.2" text-anchor="start" font-weight="normal" fill="#222" textLength="17.2" lengthAdjust="spacingAndGlyphs" stroke="#222" stroke-width="0.08">0.187</text>
<text x="473.9" y="374.4" font-size="7.8" text-anchor="start" font-weight="bold" fill="#000" textLength="30.6" lengthAdjust="spacingAndGlyphs" stroke="#000" stroke-width="0.15">p-Value</text>
<text x="603.6" y="372.5" font-size="6.2" text-anchor="start" font-weight="normal" fill="#222" textLength="17.2" lengthAdjust="spacingAndGlyphs" stroke="#222" stroke-width="0.08">0.665</text>
</g>
<g filter="url(#bl2)">
<text x="0.9" y="13.5" font-size="14.0" text-anchor="start" font-weight="bold" fill="#365A22" textLength="13.4" lengthAdjust="spacingAndGlyphs" stroke="#365A22" stroke-width="0.45">A)</text>
<text x="18.9" y="13.5" font-size="14.0" text-anchor="start" font-weight="bold" fill="#365A22" textLength="107.0" lengthAdjust="spacingAndGlyphs" stroke="#365A22" stroke-width="0.45">Pielou’s Evenness</text>
<rect x="19" y="14.30" width="107.10" height="1.4" fill="#365A22"/>
<text x="407.0" y="10.8" font-size="13.0" text-anchor="start" font-weight="bold" fill="#365A22" textLength="11.6" lengthAdjust="spacingAndGlyphs" stroke="#365A22" stroke-width="0.45">B)</text>
<text x="422.4" y="10.8" font-size="13.0" text-anchor="start" font-weight="bold" fill="#365A22" textLength="90.8" lengthAdjust="spacingAndGlyphs" stroke="#365A22" stroke-width="0.45">Shannon Index</text>
<rect x="419.5" y="11.90" width="94.30" height="1.4" fill="#365A22"/>
<text x="3.5" y="218.0" font-size="13.6" text-anchor="start" font-weight="bold" fill="#365A22" textLength="12.2" lengthAdjust="spacingAndGlyphs" stroke="#365A22" stroke-width="0.45">C)</text>
<text x="19.2" y="218.0" font-size="13.6" text-anchor="start" font-weight="bold" fill="#365A22" textLength="179.0" lengthAdjust="spacingAndGlyphs" stroke="#365A22" stroke-width="0.45">Faith’s Phylogenetic Diversity</text>
<rect x="19" y="218.90" width="179.60" height="1.4" fill="#365A22"/>
<text x="413.0" y="217.8" font-size="12.4" text-anchor="start" font-weight="bold" fill="#365A22" textLength="12.8" lengthAdjust="spacingAndGlyphs" stroke="#365A22" stroke-width="0.35">D)</text>
<text x="429.9" y="217.8" font-size="12.4" text-anchor="start" font-weight="bold" fill="#365A22" textLength="76.7" lengthAdjust="spacingAndGlyphs" stroke="#365A22" stroke-width="0.45">Kruskal-Wallis</text>
<rect x="429.9" y="218.70" width="77.70" height="1.4" fill="#365A22"/>
<circle cx="224" cy="3.9" r="1.45" fill="#000"/>
<text x="244.8" y="6.1" font-size="7.7" text-anchor="start" font-weight="normal" fill="#111" textLength="100.5" lengthAdjust="spacingAndGlyphs" stroke="#111" stroke-width="0.15">2 groups of n = 20 individuals</text>
<circle cx="224" cy="13.1" r="1.45" fill="#000"/>
<text x="244.8" y="15.3" font-size="7.7" text-anchor="start" font-weight="normal" fill="#111" textLength="84" lengthAdjust="spacingAndGlyphs" stroke="#111" stroke-width="0.15">[healthy BMI, 19-60, US]</text>
<circle cx="224" cy="22.3" r="1.45" fill="#000"/>
<text x="244.8" y="24.8" font-size="7.7" text-anchor="start" font-weight="normal" fill="#111" textLength="59.6" lengthAdjust="spacingAndGlyphs" stroke="#111" stroke-width="0.15">sex: male, female</text>
</g>
</svg>
</body></html>
